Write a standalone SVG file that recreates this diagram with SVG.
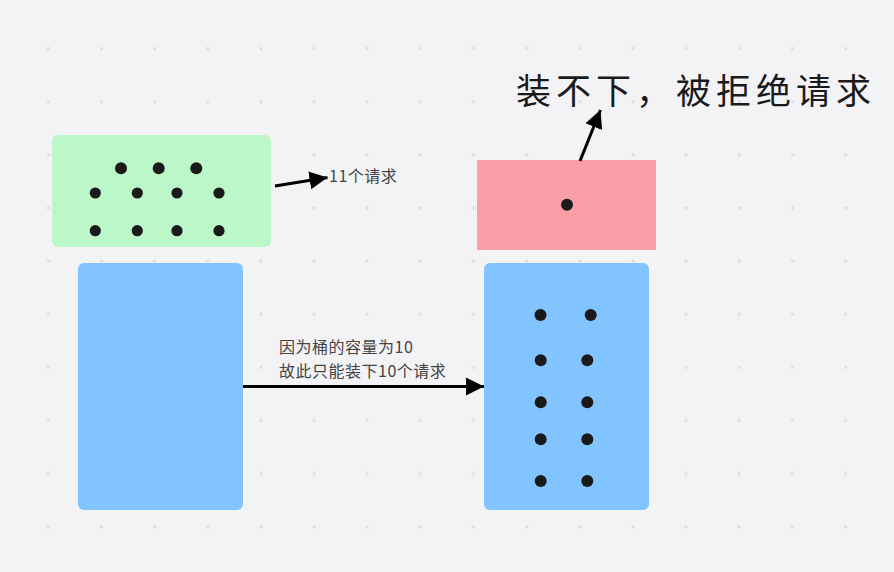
<svg xmlns="http://www.w3.org/2000/svg" width="894" height="572" viewBox="0 0 894 572">
<defs>
<pattern id="grid" x="48.3" y="48.5" width="53.15" height="53.15" patternUnits="userSpaceOnUse">
<circle cx="0" cy="0" r="1.6" fill="#dcdce0"/>
<circle cx="53.15" cy="0" r="1.6" fill="#dcdce0"/>
<circle cx="0" cy="53.15" r="1.6" fill="#dcdce0"/>
<circle cx="53.15" cy="53.15" r="1.6" fill="#dcdce0"/>
</pattern>
<marker id="arr" viewBox="0 0 10 10" refX="10" refY="5" markerWidth="6" markerHeight="6" markerUnits="strokeWidth" orient="auto">
<path d="M0,0 L10,5 L0,10 Z" fill="#000"/>
</marker>
</defs>
<style>
.dot{fill:#1a1a1a}
.conn{stroke:#000;stroke-width:3;fill:none}
.small{font-family:"Noto Sans CJK SC","Noto Sans",sans-serif;font-size:16px;letter-spacing:0.5px;fill:#444}
.big{font-family:"Noto Sans CJK SC","Noto Sans",sans-serif;font-size:35px;letter-spacing:5px;fill:#1a1a1a}
</style>
<rect width="894" height="572" fill="#f3f3f5"/>
<rect x="20" y="20" width="870" height="530" fill="url(#grid)"/>

<g id="green">
<rect x="52" y="135" width="219" height="112" rx="6" fill="#bbf7c8"/>
<circle class="dot" cx="121" cy="168.3" r="6"/>
<circle class="dot" cx="158.7" cy="168.3" r="6"/>
<circle class="dot" cx="196.3" cy="168.3" r="6"/>
<circle class="dot" cx="95.3" cy="193" r="5.6"/>
<circle class="dot" cx="137.3" cy="193" r="5.6"/>
<circle class="dot" cx="177" cy="193" r="5.6"/>
<circle class="dot" cx="219" cy="193" r="5.6"/>
<circle class="dot" cx="95.3" cy="230.7" r="5.6"/>
<circle class="dot" cx="137.3" cy="230.7" r="5.6"/>
<circle class="dot" cx="177" cy="230.7" r="5.6"/>
<circle class="dot" cx="219" cy="230.7" r="5.6"/>
</g>

<g id="leftBucket">
<rect x="78" y="263" width="165" height="247" rx="6" fill="#82c4ff"/>
</g>

<g id="rightBucket">
<rect x="484" y="263" width="165" height="247" rx="6" fill="#82c4ff"/>
<circle class="dot" cx="540.5" cy="315" r="6"/>
<circle class="dot" cx="590.7" cy="315" r="6"/>
<circle class="dot" cx="540.7" cy="360.3" r="6"/>
<circle class="dot" cx="587.3" cy="360.3" r="6"/>
<circle class="dot" cx="540.7" cy="402.3" r="6"/>
<circle class="dot" cx="587.3" cy="402.3" r="6"/>
<circle class="dot" cx="540.7" cy="439.3" r="6"/>
<circle class="dot" cx="587.3" cy="439.3" r="6"/>
<circle class="dot" cx="540.7" cy="481" r="6"/>
<circle class="dot" cx="587.3" cy="481" r="6"/>
</g>

<g id="overflow">
<rect x="477" y="160" width="179" height="90" fill="#fa9ea7"/>
<circle class="dot" cx="567" cy="204.7" r="6"/>
</g>

<g id="connectors">
<line class="conn" x1="275" y1="186" x2="327.5" y2="177.5" marker-end="url(#arr)"/>
<line class="conn" x1="243" y1="386.5" x2="484" y2="386.5" marker-end="url(#arr)"/>
<line class="conn" x1="580" y1="161" x2="600.5" y2="110" marker-end="url(#arr)"/>
</g>

<g id="labels">
<text class="small" x="329" y="182">11个请求</text>
<text class="small" x="279" y="353">因为桶的容量为10</text>
<text class="small" x="279" y="377">故此只能装下10个请求</text>
<text class="big" x="516" y="104">装不下，被拒绝请求</text>
</g>
</svg>
